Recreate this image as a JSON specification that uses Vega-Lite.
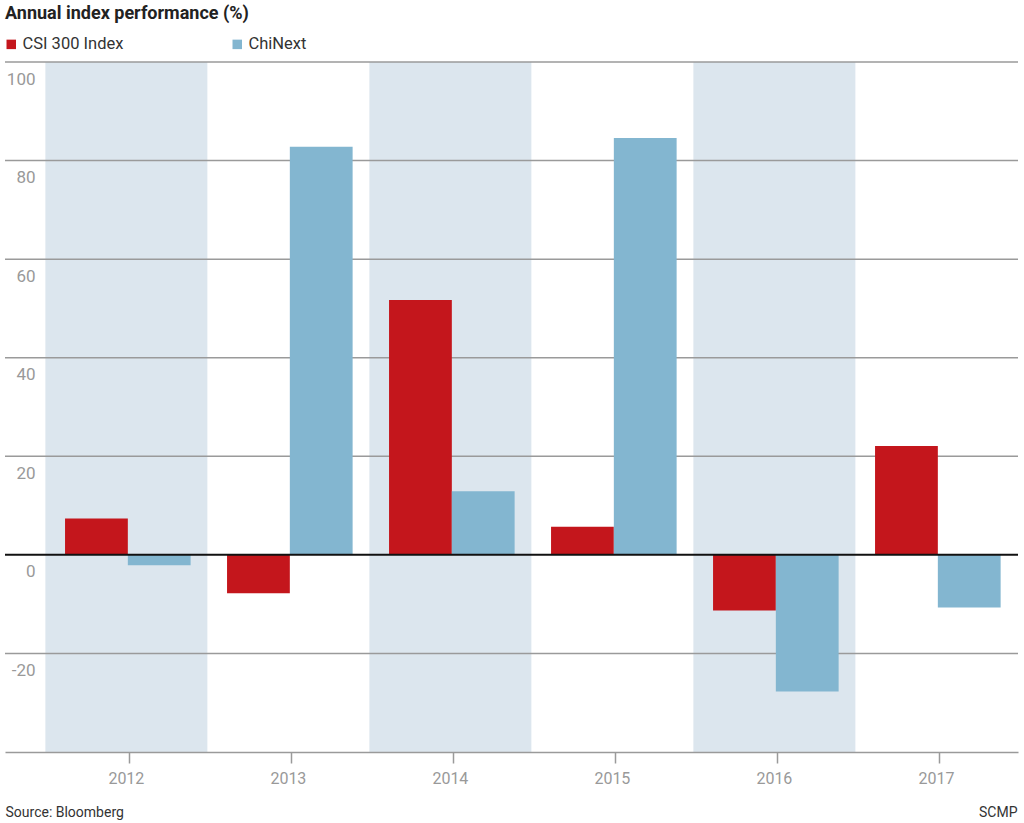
{
  "$schema": "https://vega.github.io/schema/vega-lite/v6.json",
  "width": 1013,
  "height": 690,
  "autosize": {"type": "none"},
  "padding": {"left": 5, "top": 62, "right": 6, "bottom": 71},
  "background": "white",
  "config": {"font": "Roboto", "view": {"stroke": null}},
  "title": {
    "text": "Annual index performance (%)",
    "anchor": "start",
    "frame": "group",
    "fontSize": 18,
    "fontWeight": "bold",
    "color": "#222222",
    "offset": 13
  },
  "datasets": {
    "perf": [
      {"year": "2012", "index": "CSI 300 Index", "value": 7.4},
      {"year": "2012", "index": "ChiNext", "value": -2.1},
      {"year": "2013", "index": "CSI 300 Index", "value": -7.8},
      {"year": "2013", "index": "ChiNext", "value": 82.8},
      {"year": "2014", "index": "CSI 300 Index", "value": 51.7},
      {"year": "2014", "index": "ChiNext", "value": 12.9},
      {"year": "2015", "index": "CSI 300 Index", "value": 5.7},
      {"year": "2015", "index": "ChiNext", "value": 84.6},
      {"year": "2016", "index": "CSI 300 Index", "value": -11.3},
      {"year": "2016", "index": "ChiNext", "value": -27.7},
      {"year": "2017", "index": "CSI 300 Index", "value": 22.1},
      {"year": "2017", "index": "ChiNext", "value": -10.7}
    ],
    "shade": [{"year": "2012"}, {"year": "2014"}, {"year": "2016"}],
    "grid": [{"g": 100}, {"g": 80}, {"g": 60}, {"g": 40}, {"g": 20}, {"g": -20}],
    "zero": [{"v": 0}]
  },
  "resolve": {"axis": {"y": "independent"}},
  "layer": [
    {
      "data": {"name": "shade"},
      "mark": {"type": "rect", "color": "#DCE6EE"},
      "encoding": {
        "x": {
          "field": "year",
          "type": "nominal",
          "scale": {"paddingInner": 0, "paddingOuter": 0.1265, "align": 0.985},
          "axis": {
            "title": "Source: Bloomberg",
            "titleAnchor": "start",
            "titleAlign": "left",
            "titleX": 0,
            "titleY": 60,
            "titleBaseline": "middle",
            "titleFontSize": 14,
            "titleFontWeight": "normal",
            "titleColor": "#333333",
            "bandPosition": 0.52,
            "labelFontSize": 16,
            "labelColor": "#999999",
            "labelAngle": 0,
            "labelPadding": 7,
            "tickSize": 11,
            "tickColor": "#9a9a9a",
            "tickWidth": 1.5,
            "domainColor": "#9a9a9a",
            "domainWidth": 1.5,
            "grid": false
          }
        },
        "y": {"datum": 100, "scale": {"domain": [-40, 100], "nice": false}, "axis": null},
        "y2": {"datum": -40}
      }
    },
    {
      "data": {"name": "grid"},
      "mark": {"type": "rule", "color": "#9a9a9a", "strokeWidth": 1.5},
      "encoding": {
        "y": {"field": "g", "type": "quantitative", "scale": {"domain": [-40, 100], "nice": false}, "axis": null}
      }
    },
    {
      "data": {"name": "perf"},
      "mark": {"type": "bar"},
      "encoding": {
        "x": {
          "field": "year",
          "type": "nominal",
          "scale": {"paddingInner": 0, "paddingOuter": 0.1265, "align": 0.985},
          "axis": {
            "title": "Source: Bloomberg",
            "titleAnchor": "start",
            "titleAlign": "left",
            "titleX": 0,
            "titleY": 60,
            "titleBaseline": "middle",
            "titleFontSize": 14,
            "titleFontWeight": "normal",
            "titleColor": "#333333",
            "bandPosition": 0.52,
            "labelFontSize": 16,
            "labelColor": "#999999",
            "labelAngle": 0,
            "labelPadding": 7,
            "tickSize": 11,
            "tickColor": "#9a9a9a",
            "tickWidth": 1.5,
            "domainColor": "#9a9a9a",
            "domainWidth": 1.5,
            "grid": false
          }
        },
        "xOffset": {
          "field": "index",
          "type": "nominal",
          "sort": ["CSI 300 Index", "ChiNext"],
          "scale": {"paddingInner": 0, "paddingOuter": 0.29, "align": 0.54}
        },
        "y": {
          "field": "value",
          "type": "quantitative",
          "scale": {"domain": [-40, 100], "nice": false},
          "axis": {
            "title": null,
            "grid": false,
            "domain": false,
            "ticks": false,
            "tickSize": 0,
            "values": [-20, 0, 20, 40, 60, 80, 100],
            "labelExpr": "'' + datum.value",
            "labelAlign": "right",
            "labelPadding": -30,
            "labelBaseline": "middle",
            "labelOffset": 17,
            "labelFontSize": 17,
            "labelColor": "#999999"
          }
        },
        "color": {
          "field": "index",
          "type": "nominal",
          "sort": ["CSI 300 Index", "ChiNext"],
          "scale": {"domain": ["CSI 300 Index", "ChiNext"], "range": ["#C4161C", "#83B6D0"]},
          "legend": {
            "orient": "none",
            "legendX": -2,
            "legendY": -26,
            "direction": "horizontal",
            "title": null,
            "symbolType": "square",
            "symbolSize": 90,
            "symbolStrokeWidth": 0,
            "labelFontSize": 16.5,
            "labelColor": "#333333",
            "labelOffset": 3,
            "columnPadding": 105
          }
        }
      }
    },
    {
      "data": {"name": "zero"},
      "mark": {"type": "rule", "color": "#111111", "strokeWidth": 2},
      "encoding": {
        "y": {
          "field": "v",
          "type": "quantitative",
          "scale": {"domain": [-40, 100], "nice": false},
          "axis": {
            "orient": "right",
            "title": "SCMP",
            "titleAngle": 0,
            "titleAlign": "right",
            "titleBaseline": "middle",
            "titleX": -1,
            "titleY": 750,
            "titleFontSize": 14,
            "titleFontWeight": "normal",
            "titleColor": "#333333",
            "labels": false,
            "ticks": false,
            "domain": false,
            "grid": false
          }
        }
      }
    }
  ]
}
